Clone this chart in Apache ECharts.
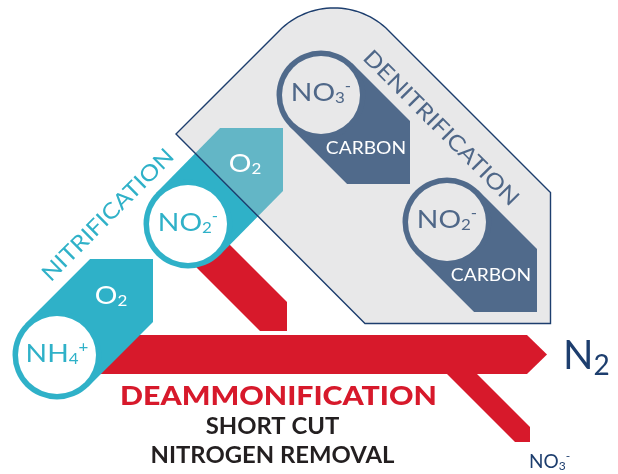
<!DOCTYPE html>
<html><head><meta charset="utf-8">
<script src="https://cdn.jsdelivr.net/npm/echarts@6/dist/echarts.min.js"></script>
<style>html,body{margin:0;padding:0;background:#fff}#c{width:618px;height:474px}</style>
</head><body><div id="c"></div>
<script>
// ---- diagram data (x right, y down, in reference units) ----
const redArrows = [
  [[96,374],[135,335],[527,335],[547,354.5],[527,374]],   // main flow to N2
  [[161,232],[197,212],[287,302],[287,331],[260,331]],    // NO2- shortcut
  [[443,370],[473,370],[530,427],[530,442],[515,442]]     // NO3- side branch
];
// [formula, subscript, charge, centreX, centreY, tipX, tipY]
const nitrificationSteps = [
  ['NH','4','+', 57,355, 153,259],
  ['NO','2','-', 188,224, 283,128]
];
const denitrificationSteps = [
  ['NO','3','-', 321,95, 410,184],
  ['NO','2','-', 447,222, 537,312]
];
const denitBox = [[176,134],[334,-24],[550.5,192.5],[550.5,323.5],[365,323.5]];
const denitBoxCorner = 77;
const capsuleRadius = 44.5;
const ringInner = 39;
const oxygenLabels = [[111,296],[245,164]];
const carbonLabels = [[366,149],[491,276]];
const processNames = ['NITRIFICATION','DENITRIFICATION'];
const processPos = [[108,215],[441,128]];
const processAngle = [45,-45];
const titleLines = ['DEAMMONIFICATION','SHORT CUT','NITROGEN REMOVAL'];
const titlePos = [[278.5,396.5],[272.5,427],[272.5,456]];
const products = [['N','2','',563,356.5],['NO','3','-',529,461.5]];

// ---- styles ----
const RED='#d7192b', TEAL='#2fb1c8', BLUE='#506a8b', NAVY='#1d3e6e', INK='#231f20', DENIT='#4f6788';
const FONT='Lato', STRETCH=1.13;

const chart = echarts.init(document.getElementById('c'), null, {renderer:'canvas'});

function norm(v){const l=Math.hypot(v[0],v[1]);return [v[0]/l,v[1]/l];}
function roundCorner(pts, idx, r){
  const a=pts[idx], p=pts[idx-1], n=pts[idx+1];
  const u1=norm([p[0]-a[0],p[1]-a[1]]), u2=norm([n[0]-a[0],n[1]-a[1]]);
  const th=Math.acos(u1[0]*u2[0]+u1[1]*u2[1]);
  const bis=norm([u1[0]+u2[0],u1[1]+u2[1]]);
  const dc=r/Math.sin(th/2);
  const c=[a[0]+bis[0]*dc, a[1]+bis[1]*dc];
  const t=r/Math.tan(th/2);
  const T1=[a[0]+u1[0]*t,a[1]+u1[1]*t], T2=[a[0]+u2[0]*t,a[1]+u2[1]*t];
  const a1=Math.atan2(T1[1]-c[1],T1[0]-c[0]), a2=Math.atan2(T2[1]-c[1],T2[0]-c[0]);
  let d=a2-a1; while(d>Math.PI)d-=2*Math.PI; while(d<-Math.PI)d+=2*Math.PI;
  const out=pts.slice(0,idx);
  for(let k=0;k<=32;k++){const g=a1+d*k/32; out.push([c[0]+r*Math.cos(g), c[1]+r*Math.sin(g)]);}
  return out.concat(pts.slice(idx+1));
}
function capsule(api, step, color, innerFill){
  const C=[step[3],step[4]], P=[step[5],step[6]];
  const d=norm([P[0]-C[0],P[1]-C[1]]), n=[-d[1],d[0]];
  const R=capsuleRadius, k=R*Math.SQRT2;
  const sx=Math.sign(d[0]), sy=Math.sign(d[1]);
  let A=[P[0]-sx*k,P[1]], B=[P[0],P[1]-sy*k];
  const side=q=>(q[0]-C[0])*n[0]+(q[1]-C[1])*n[1];
  if(side(A)<0){const tmp=A;A=B;B=tmp;}
  const poly=[[C[0]+n[0]*R,C[1]+n[1]*R],A,P,B,[C[0]-n[0]*R,C[1]-n[1]*R]];
  const c=api.coord(C), rpx=api.size([R,R])[0], ri=api.size([ringInner,ringInner])[0];
  return {type:'group',children:[
    {type:'polygon',shape:{points:poly.map(p=>api.coord(p))},style:{fill:color}},
    {type:'circle',shape:{cx:c[0],cy:c[1],r:rpx},style:{fill:color}},
    {type:'circle',shape:{cx:c[0],cy:c[1],r:ri},style:{fill:innerFill}}
  ]};
}
function chem(main, sub, sup, size, subSize, color, weight){
  const base={fontFamily:FONT,fontWeight:weight||400,fill:color,verticalAlign:'middle'};
  const rich={
    m:Object.assign({fontSize:size},base),
    s:Object.assign({fontSize:subSize,padding:[Math.round(size*0.45),0,0,0]},base),
    p:Object.assign({fontSize:subSize,padding:[0,0,Math.round(size*0.5),0]},base)
  };
  return {text:'{m|'+main+'}{s|'+sub+'}'+(sup?'{p|'+sup+'}':''), rich};
}

// text specs built from the arrays
const texts=[];
nitrificationSteps.forEach(s=>texts.push(Object.assign({at:[s[3],s[4]-1.5],fill:TEAL},chem(s[0],s[1],s[2],25,15,TEAL))));
denitrificationSteps.forEach(s=>texts.push(Object.assign({at:[s[3],s[4]-2],fill:DENIT},chem(s[0],s[1],s[2],25,15,DENIT))));
oxygenLabels.forEach(p=>texts.push(Object.assign({at:p,fill:'#fff'},chem('O','2','',25,15,'#fff'))));
carbonLabels.forEach(p=>texts.push({at:p,text:'CARBON',size:17,weight:400,fill:'#fff'}));
processNames.forEach((t,i)=>texts.push({at:processPos[i],text:t,size:22,weight:400,fill:i?DENIT:TEAL,rot:processAngle[i]}));
titleLines.forEach((t,i)=>texts.push({at:titlePos[i],text:t,size:i?22:27,weight:i?700:900,fill:i?INK:RED,sx:i?1.085:1.12}));
products.forEach((p,i)=>texts.push(Object.assign({at:[p[3],p[4]],fill:NAVY,align:'left',sx:1},
  i?chem(p[0],p[1],p[2],19,12,NAVY):chem(p[0],p[1],p[2],40,28,NAVY))));

const series=[
  {type:'custom',z:1,silent:true,data:redArrows.map(p=>p[0]),
   renderItem:(pa,api)=>({type:'polygon',shape:{points:redArrows[pa.dataIndex].map(p=>api.coord(p))},style:{fill:RED}})},
  {type:'custom',z:2,silent:true,data:nitrificationSteps.map(s=>[s[3],s[4]]),
   renderItem:(pa,api)=>capsule(api,nitrificationSteps[pa.dataIndex],TEAL,'#ffffff')},
  {type:'custom',z:3,silent:true,data:[denitBox[0]],
   renderItem:(pa,api)=>({type:'polygon',shape:{points:roundCorner(denitBox,1,denitBoxCorner).map(p=>api.coord(p))},
     style:{fill:'rgba(190,190,194,0.36)',stroke:NAVY,lineWidth:1.4}})},
  {type:'custom',z:4,silent:true,data:denitrificationSteps.map(s=>[s[3],s[4]]),
   renderItem:(pa,api)=>capsule(api,denitrificationSteps[pa.dataIndex],BLUE,'#e8e8e9')},
  {type:'custom',z:5,silent:true,data:texts.map(t=>t.at),
   renderItem:(pa,api)=>{
     const t=texts[pa.dataIndex], c=api.coord(t.at);
     const style={text:t.text,fill:t.fill,align:t.align||'center',verticalAlign:'middle'};
     if(t.rich) style.rich=t.rich; else {style.fontFamily=FONT;style.fontSize=t.size;style.fontWeight=t.weight;}
     return {type:'text',x:c[0],y:c[1],rotation:(t.rot||0)*Math.PI/180,scaleX:t.sx||STRETCH,style};
   }}
];

chart.setOption({
  animation:false,
  grid:{left:0,right:0,top:0,bottom:0},
  xAxis:{type:'value',min:0,max:618,show:false},
  yAxis:{type:'value',min:0,max:474,inverse:true,show:false},
  series
});
</script></body></html>
